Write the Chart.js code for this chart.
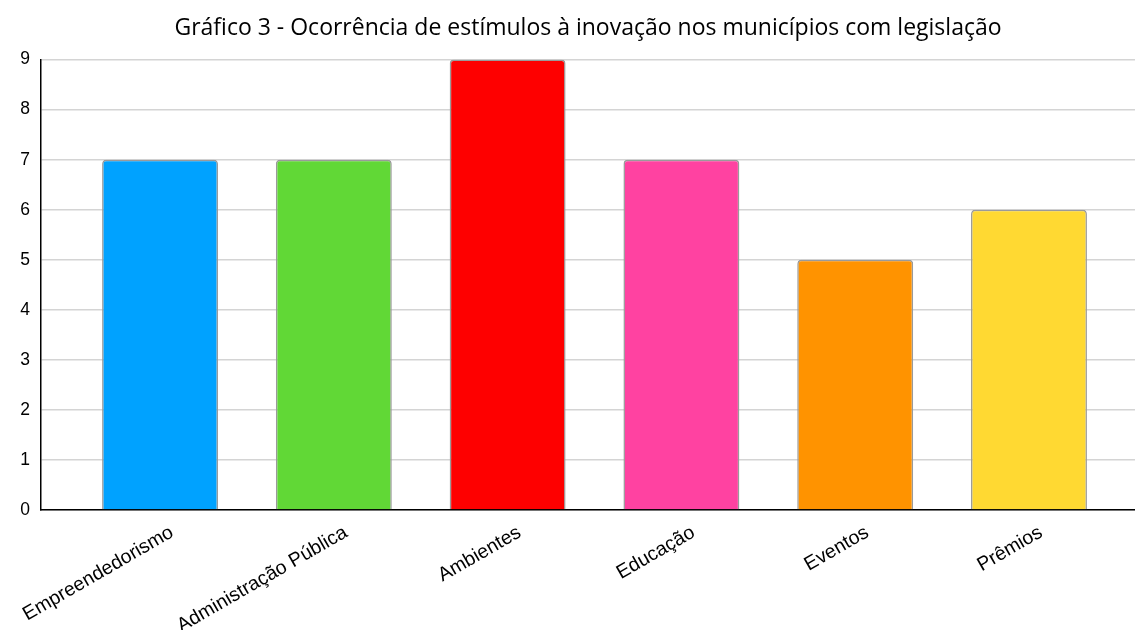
<!DOCTYPE html>
<html>
<head>
<meta charset="utf-8">
<script src="https://cdn.jsdelivr.net/npm/chart.js@4"></script>
<style>
  html, body { margin: 0; padding: 0; background: #fff; }
  #wrap { width: 1135px; height: 630px; }
</style>
</head>
<body>
<div id="wrap"><canvas id="chart" width="1135" height="630"></canvas></div>
<script>
// Gráfico 3: occurrences per category
const categories = ["Empreendedorismo", "Administração Pública", "Ambientes", "Educação", "Eventos", "Prêmios"];
const values = [7, 7, 9, 7, 5, 6];
const barColors = ["#00A2FF", "#61D836", "#FE0000", "#FF42A1", "#FF9300", "#FFD932"];
const yTicks = [0, 1, 2, 3, 4, 5, 6, 7, 8, 9];

const ctx = document.getElementById("chart").getContext("2d");
new Chart(ctx, {
  type: "bar",
  data: {
    datasets: [{
      data: values.map((v, i) => ({ x: i, y: v })),
      backgroundColor: barColors,
      borderColor: "#9a9a9a",
      borderWidth: 1.5,
      borderSkipped: "bottom",
      borderRadius: { topLeft: 4, topRight: 4 },
      barPercentage: 0.667,
      categoryPercentage: 1
    }]
  },
  options: {
    responsive: false,
    animation: false,
    layout: { padding: 0 },
    plugins: {
      legend: { display: false },
      tooltip: { enabled: false },
      title: {
        display: true,
        fullSize: false,
        text: "Gráfico 3 - Ocorrência de estímulos à inovação nos municípios com legislação",
        color: "#000",
        font: { family: "'Open Sans'", size: 23, weight: "normal" },
        padding: { top: 15, bottom: 17 }
      }
    },
    scales: {
      x: {
        type: "linear",
        offset: false,
        min: -0.685,
        max: 5.61,
        grid: { display: false },
        border: { display: true, color: "#000", width: 1.5 },
        afterBuildTicks: (s) => { s.ticks = categories.map((c, i) => ({ value: i })); },
        afterFit: (s) => { s.height = 120; },
        ticks: {
          autoSkip: false,
          minRotation: 30,
          maxRotation: 30,
          labelOffset: 12,
          color: "#000",
          padding: 3,
          font: { family: "'Liberation Sans', Arial", size: 19.5 },
          callback: (v) => categories[v]
        }
      },
      y: {
        min: 0,
        max: 9,
        afterBuildTicks: (s) => { s.ticks = yTicks.map((v) => ({ value: v })); },
        afterFit: (s) => { s.width = 41; },
        grid: { color: "#d4d4d4", lineWidth: 1.5, drawTicks: false },
        border: { display: true, color: "#000", width: 1.5 },
        ticks: {
          color: "#000",
          padding: 11,
          font: { family: "'Liberation Sans', Arial", size: 17.5 }
        }
      }
    }
  }
});
</script>
</body>
</html>
